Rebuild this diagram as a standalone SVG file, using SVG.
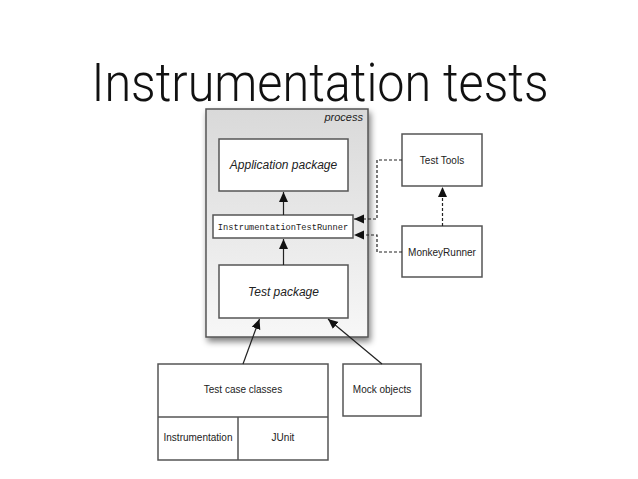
<svg xmlns="http://www.w3.org/2000/svg" width="638" height="479" viewBox="0 0 638 479">
<defs>
<linearGradient id="pg" x1="0" y1="0" x2="0" y2="1">
<stop offset="0" stop-color="#d9d9d9"/>
<stop offset="1" stop-color="#f7f7f7"/>
</linearGradient>
<filter id="sh" x="-10%" y="-10%" width="130%" height="130%">
<feGaussianBlur in="SourceAlpha" stdDeviation="3"/>
<feOffset dx="2" dy="4" result="b"/>
<feComponentTransfer><feFuncA type="linear" slope="0.5"/></feComponentTransfer>
<feMerge><feMergeNode/><feMergeNode in="SourceGraphic"/></feMerge>
</filter>
<marker id="ah" markerWidth="11" markerHeight="11" refX="10" refY="5" orient="auto" markerUnits="userSpaceOnUse">
<path d="M0,0.5 L10,5 L0,9.5 Z" fill="#111"/>
</marker>
</defs>
<style>
.box{fill:#fff;stroke:#555;stroke-width:1.5}
.t{font-family:"Liberation Sans",Arial,sans-serif;font-size:10px;fill:#222;text-anchor:middle}
.it{font-family:"Liberation Sans",Arial,sans-serif;font-size:12px;font-style:italic;fill:#222;text-anchor:middle}
.mono{font-family:"Liberation Mono","Courier New",monospace;font-size:8.7px;fill:#222;text-anchor:middle}
.c{fill:none;stroke:#222;stroke-width:1.2}
.d{fill:none;stroke:#222;stroke-width:1.2;stroke-dasharray:3,2}
</style>
<rect width="638" height="479" fill="#fff"/>
<text x="320" y="101" font-family="Roboto,Liberation Sans,Arial,sans-serif" font-size="54" font-weight="300" fill="#111" text-anchor="middle" textLength="457" lengthAdjust="spacingAndGlyphs">Instrumentation tests</text>

<g id="process">
<rect x="206" y="109" width="162" height="228" fill="url(#pg)" stroke="#555" stroke-width="1.5" filter="url(#sh)"/>
<text x="363" y="121" font-family="Liberation Sans,Arial,sans-serif" font-size="11" font-style="italic" fill="#222" text-anchor="end">process</text>
</g>
<g id="app">
<rect class="box" x="219" y="139" width="129" height="52"/>
<text class="it" x="283.5" y="169">Application package</text>
</g>
<g id="runner">
<rect class="box" x="213" y="215" width="140" height="23"/>
<text class="mono" x="283" y="229.5">InstrumentationTestRunner</text>
</g>
<g id="testpkg">
<rect class="box" x="219" y="265" width="129" height="53"/>
<text class="it" x="283.5" y="296">Test package</text>
</g>
<g id="testtools">
<rect class="box" x="402" y="134" width="80" height="52"/>
<text class="t" x="442" y="163.5">Test Tools</text>
</g>
<g id="monkey">
<rect class="box" x="402" y="226" width="80" height="51"/>
<text class="t" x="442" y="256">MonkeyRunner</text>
</g>
<g id="testcase">
<rect class="box" x="158" y="364" width="170" height="96"/>
<line x1="158" y1="417" x2="328" y2="417" stroke="#555" stroke-width="1.5"/>
<line x1="238" y1="417" x2="238" y2="460" stroke="#555" stroke-width="1.5"/>
<text class="t" x="243" y="393">Test case classes</text>
<text class="t" x="198" y="441">Instrumentation</text>
<text class="t" x="283" y="441">JUnit</text>
</g>
<g id="mock">
<rect class="box" x="343" y="364" width="78" height="52"/>
<text class="t" x="382" y="393">Mock objects</text>
</g>
<g id="connectors">
<line class="c" x1="283.5" y1="215" x2="283.5" y2="192" marker-end="url(#ah)"/>
<line class="c" x1="283.5" y1="265" x2="283.5" y2="239" marker-end="url(#ah)"/>
<line class="c" x1="243" y1="364" x2="259.5" y2="319" marker-end="url(#ah)"/>
<line class="c" x1="382" y1="364" x2="328" y2="319" marker-end="url(#ah)"/>
<polyline class="d" points="402,160 377,160 377,219 354,219" marker-end="url(#ah)"/>
<polyline class="d" points="402,252 377,252 377,235 354,235" marker-end="url(#ah)"/>
<line class="d" x1="442.5" y1="226" x2="442.5" y2="187" marker-end="url(#ah)"/>
</g>
</svg>
